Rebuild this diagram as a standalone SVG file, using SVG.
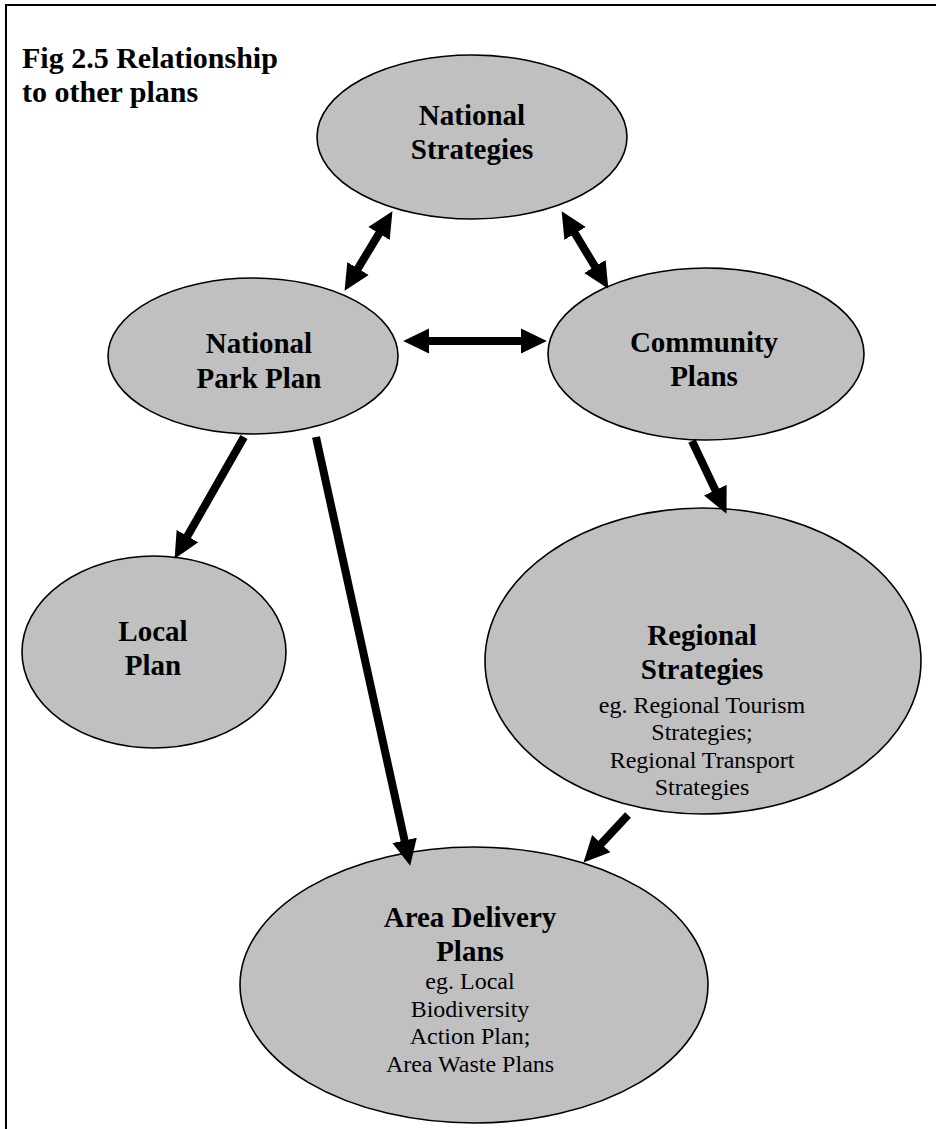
<svg xmlns="http://www.w3.org/2000/svg" width="936" height="1129" viewBox="0 0 936 1129">
<style>
  .node ellipse { fill: #c0c0c0; stroke: #000; stroke-width: 1.6; }
  .b { font-family: "Liberation Serif", "Times New Roman", serif; font-weight: bold; font-size: 29px; fill: #000; text-anchor: middle; }
  .r { font-family: "Liberation Serif", "Times New Roman", serif; font-size: 24px; fill: #000; text-anchor: middle; }
  .title { font-family: "Liberation Serif", "Times New Roman", serif; font-weight: bold; font-size: 30px; fill: #000; }
  .conn line { stroke: #000; stroke-width: 8; fill: none; }
  .frame { stroke: #000; stroke-width: 2; fill: none; }
</style>
<defs>
  <marker id="head" markerUnits="userSpaceOnUse" markerWidth="26" markerHeight="26" viewBox="0 0 25 24" refX="5" refY="12" orient="auto-start-reverse">
    <path d="M0,0 L25,12 L0,24 z" fill="#000"/>
  </marker>
</defs>
<rect width="936" height="1129" fill="#fff"/>
<path class="frame" d="M6,1129 L6,5 L936,5"/>
<text class="title" x="22" y="68">Fig 2.5 Relationship</text>
<text class="title" x="22" y="102">to other plans</text>

<g id="national-strategies" class="node">
  <ellipse cx="472" cy="137" rx="155" ry="82"/>
  <text class="b" x="472" y="125">National</text>
  <text class="b" x="472" y="159">Strategies</text>
</g>
<g id="national-park-plan" class="node">
  <ellipse cx="253" cy="356" rx="145" ry="78"/>
  <text class="b" x="259" y="353">National</text>
  <text class="b" x="259" y="388">Park Plan</text>
</g>
<g id="community-plans" class="node">
  <ellipse cx="706" cy="354" rx="158" ry="86"/>
  <text class="b" x="704" y="352">Community</text>
  <text class="b" x="704" y="386">Plans</text>
</g>
<g id="local-plan" class="node">
  <ellipse cx="154" cy="652" rx="132" ry="96"/>
  <text class="b" x="153" y="641">Local</text>
  <text class="b" x="153" y="675">Plan</text>
</g>
<g id="regional-strategies" class="node">
  <ellipse cx="703" cy="661" rx="218" ry="153"/>
  <text class="b" x="702" y="645">Regional</text>
  <text class="b" x="702" y="679">Strategies</text>
  <text class="r" x="702" y="713">eg. Regional Tourism</text>
  <text class="r" x="702" y="740">Strategies;</text>
  <text class="r" x="702" y="768">Regional Transport</text>
  <text class="r" x="702" y="795">Strategies</text>
</g>
<g id="area-delivery-plans" class="node">
  <ellipse cx="474" cy="985" rx="234" ry="138"/>
  <text class="b" x="470" y="927">Area Delivery</text>
  <text class="b" x="470" y="961">Plans</text>
  <text class="r" x="470" y="989">eg. Local</text>
  <text class="r" x="470" y="1017">Biodiversity</text>
  <text class="r" x="470" y="1044">Action Plan;</text>
  <text class="r" x="470" y="1072">Area Waste Plans</text>
</g>

<g id="connectors" class="conn">
  <line x1="381.7" y1="229.1" x2="355.3" y2="272.9" marker-start="url(#head)" marker-end="url(#head)"/>
  <line x1="572.4" y1="229.1" x2="597.6" y2="270.9" marker-start="url(#head)" marker-end="url(#head)"/>
  <line x1="424" y1="341" x2="526" y2="341" marker-start="url(#head)" marker-end="url(#head)"/>
  <line x1="244" y1="437" x2="184.9" y2="540.6" marker-end="url(#head)"/>
  <line x1="316" y1="437" x2="405.7" y2="845.5" marker-end="url(#head)"/>
  <line x1="692" y1="441" x2="717.6" y2="494.9" marker-end="url(#head)"/>
  <line x1="628" y1="815" x2="597.7" y2="847.4" marker-end="url(#head)"/>
</g>
</svg>
